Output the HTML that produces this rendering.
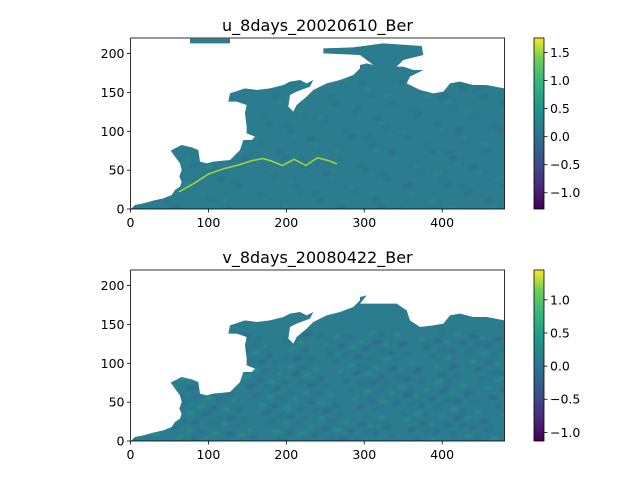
<!DOCTYPE html>
<html><head><meta charset="utf-8"><style>
body{margin:0;background:#fff}
svg text{font-family:"DejaVu Sans","Liberation Sans",sans-serif;fill:#000}
</style></head><body>
<svg id="fig" width="640" height="480" viewBox="0 0 640 480" xmlns="http://www.w3.org/2000/svg">
<defs>
<linearGradient id="vir" x1="0" y1="1" x2="0" y2="0">
<stop offset="0" stop-color="#440154"/><stop offset="0.13" stop-color="#482878"/><stop offset="0.25" stop-color="#3e4989"/><stop offset="0.38" stop-color="#31688e"/><stop offset="0.5" stop-color="#26828e"/><stop offset="0.63" stop-color="#1f9e89"/><stop offset="0.75" stop-color="#35b779"/><stop offset="0.88" stop-color="#6ece58"/><stop offset="1" stop-color="#fde725"/>
</linearGradient>
<filter id="blur1"><feGaussianBlur stdDeviation="1.2"/></filter>
</defs>
</svg>
<script>
const xTicks=[0,100,200,300,400];
const yTicks=[0,50,100,150,200];
const xMax=480, yMax=220;
const titles=["u_8days_20020610_Ber","v_8days_20080422_Ber"];
const cbMin=[-1.29,-1.13];
const cbMax=[1.76,1.45];
const cbTicks=[[-1.0,-0.5,0.0,0.5,1.0,1.5],[-1.0,-0.5,0.0,0.5,1.0]];
// Kuroshio front path (data coords)
const frontX=[62,80,100,120,140,155,170,180,195,210,225,240,255,265];
const frontY=[22,32,45,52,57,62,65,62,56,64,56,66,62,58];
const NS="http://www.w3.org/2000/svg";
const svg=document.getElementById('fig');
const AX={x0:130.5,x1:504.5,w:374,h:171};
const tops=[38,270];
function mk(t,a,p){const e=document.createElementNS(NS,t);for(const k in a)e.setAttribute(k,a[k]);(p||svg).appendChild(e);return e;}
const oceanTop=[[33,537],[45,525],[70,520],[100,512],[130,505],[155,495],[165,480],[180,470],[185,455],[178,440],[185,420],[180,400],[165,380],[152,362],[185,345],[215,352],[235,360],[240,395],[260,400],[280,395],[330,390],[350,370],[360,360],[370,330],[395,330],[405,320],[380,310],[380,290],[375,250],[380,225],[350,215],[325,215],[330,190],[375,175],[410,180],[450,175],[490,165],[510,155],[540,150],[560,160],[580,150],[570,170],[530,185],[510,195],[505,230],[520,245],[530,225],[560,200],[580,180],[620,160],[660,150],[700,135],[720,115],[720,105],[740,100],[760,105],[720,75],[610,70],[610,55],[700,52],[790,40],[905,48],[910,75],[850,90],[830,110],[850,110],[880,120],[910,120],[870,140],[860,160],[900,180],[940,190],[970,185],[990,160],[1020,155],[1060,165],[1100,165],[1153,175],[1153,537]];
const oceanBot=oceanTop.slice(0,55).concat([[720,125],[830,125],[860,145],[870,175],[900,195],[940,190],[970,185],[990,160],[1020,155],[1060,165],[1100,165],[1153,175],[1153,537]]);
function zp(pt,top){return [(120+pt[0]/3),(top-8+pt[1]/3)];}
for(let k=0;k<2;k++){
  const top=tops[k];
  const g=mk('g',{});
  
  
  const xs=v=>AX.x0+v/xMax*AX.w, ys=v=>top+AX.h-v/yMax*AX.h;
  const poly=(k?oceanBot:oceanTop).map(p=>zp(p,top).join(',')).join(' ');
  const cp=mk('clipPath',{id:'cp'+k},g);mk('polygon',{points:poly},cp);
  const oc=mk('polygon',{points:poly,fill:'#2a7c8e'},g);
  
  
  if(k===0){ mk('polygon',{points:[[210,26],[330,26],[330,40],[210,40]].map(p=>zp(p,top).join(',')).join(' '),fill:'#2a7c8e'},g);}
  const tx=mk('g',{'clip-path':'url(#cp'+k+')',filter:'url(#blur1)',opacity:k?0.55:0.35},g);
  for(let i=0;i<(k?320:180);i++){
    const fx=(i*97.3)%480, fy=(i*53.7)%(k?140:170);
    const sx=xs(fx), sy=ys(fy);
    const c=(i%3===0)?'#3f4a8a':(i%3===1?'#2fa585':'#31668e');
    mk('path',{d:`M${sx},${sy} l${5+(i%5)},${-3+(i%4)}`,stroke:c,'stroke-width':2.5,fill:'none'},tx);
  }
  if(k===0){
    const d=frontX.map((v,i)=>(i?'L':'M')+xs(v)+','+ys(frontY[i])).join(' ');
    const f=mk('path',{d:d,stroke:'#a8db34','stroke-width':1.6,fill:'none',opacity:0.9},g);
    
    
  }
  mk('rect',{x:AX.x0,y:top,width:AX.w,height:AX.h,fill:'none',stroke:'#000','stroke-width':0.8},g);
  xTicks.forEach(v=>{const x=xs(v);mk('line',{x1:x,x2:x,y1:top+AX.h,y2:top+AX.h+3.5,stroke:'#000','stroke-width':0.8},g);
    const t=mk('text',{x:x,y:top+AX.h+18,'text-anchor':'middle','font-size':12.5},g);t.textContent=v;
    });
  yTicks.forEach(v=>{const y=ys(v);mk('line',{x1:AX.x0-3.5,x2:AX.x0,y1:y,y2:y,stroke:'#000','stroke-width':0.8},g);
    const t=mk('text',{x:AX.x0-6,y:y+4.5,'text-anchor':'end','font-size':12.5},g);t.textContent=v;
    });
  const ti=mk('text',{x:(AX.x0+AX.x1)/2,y:top-7,'text-anchor':'middle','font-size':16},g);ti.textContent=titles[k];
  
  const cb=mk('rect',{x:534,y:top,width:10,height:AX.h,fill:'url(#vir)',stroke:'#000','stroke-width':0.8},g);
  
  const cs=v=>top+AX.h-(v-cbMin[k])/(cbMax[k]-cbMin[k])*AX.h;
  cbTicks[k].forEach(v=>{const y=cs(v);mk('line',{x1:544,x2:547.5,y1:y,y2:y,stroke:'#000','stroke-width':0.8},g);
    const t=mk('text',{x:550,y:y+4.5,'font-size':12.5},g);
    t.textContent=v<0?'\u2212'+Math.abs(v).toFixed(1):v.toFixed(1);
    });
}
</script>
</body></html>
